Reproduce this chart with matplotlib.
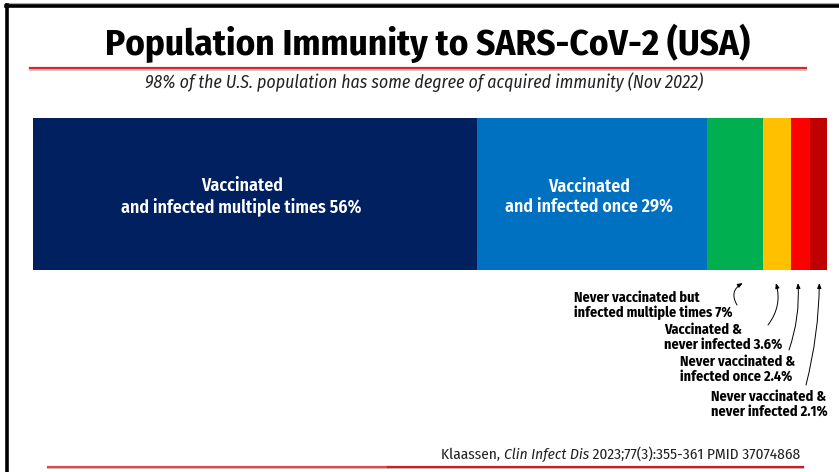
import matplotlib
matplotlib.use("Agg")
import matplotlib.pyplot as plt
from matplotlib.lines import Line2D
import numpy as np

plt.rcParams["font.family"] = ["Fira Sans Condensed", "DejaVu Sans"]

# population shares, percent
groups = ["Vaccinated\nand infected multiple times",
          "Vaccinated\nand infected once",
          "Never vaccinated but\ninfected multiple times",
          "Vaccinated &\nnever infected",
          "Never vaccinated &\ninfected once",
          "Never vaccinated &\nnever infected"]
shares = [56, 29, 7, 3.6, 2.4, 2.1]
pct_text = ["56%", "29%", "7%", "3.6%", "2.4%", "2.1%"]
colors = ["#002060", "#0070C0", "#00B050", "#FFC000", "#FF0000", "#C00000"]

W, H = 839, 472
fig = plt.figure(figsize=(W / 100, H / 100), dpi=100)
r = fig.canvas.get_renderer()

def fx(px):
    return px / W

def fy(py):
    return 1 - py / H

def fit(t, width):
    # rescale a text so it spans the given width in pixels
    w = t.get_window_extent(r).width
    t.set_fontsize(t.get_fontsize() * width / w)
    return t.get_fontsize()

# slide frame
fig.add_artist(Line2D([fx(6), 1], [fy(4), fy(4)], color="#9a9a9a", lw=1.2))
fig.add_artist(Line2D([fx(6), 1], [fy(6), fy(6)], color="black", lw=2.6))
fig.add_artist(Line2D([fx(7), fx(7)], [fy(5), 0], color="black", lw=2.6))

title = fig.text(fx(427.5), fy(55), "Population Immunity to SARS-CoV-2 (USA)", ha="center",
                 va="baseline", fontsize=24, fontweight="bold")
fit(title, 645)
fig.add_artist(Line2D([fx(30), fx(806)], [fy(69.5), fy(69.5)], color="#c8c8c8", lw=1.5))
fig.add_artist(Line2D([fx(30), fx(806)], [fy(68), fy(68)], color="#d6262b", lw=1.6))
sub = fig.text(fx(424), fy(88), "98% of the U.S. population has some degree of acquired immunity (Nov 2022)",
               ha="center", va="baseline", fontsize=11, style="italic", color="#222222")
fit(sub, 558)

# stacked bar
ax = fig.add_axes([fx(33), fy(270), fx(827) - fx(33), (270 - 118) / H])
lefts = np.concatenate([[0], np.cumsum(shares)[:-1]])
ax.barh([0], shares, left=lefts, height=1, color=colors, linewidth=0)
ax.set_xlim(0, sum(shares))
ax.set_ylim(-0.5, 0.5)
ax.axis("off")

# labels inside the two wide segments, nudged left a little
label_dx = [-1.7, -0.4]
big = []
for i in range(2):
    big.append(ax.text(lefts[i] + shares[i] / 2 + label_dx[i], -0.02, groups[i] + " " + pct_text[i],
                       ha="center", va="center", color="white", fontsize=12, fontweight="semibold",
                       linespacing=1.2))
size = fit(big[0], 241)
big[1].set_fontsize(size)

# small segments annotated below the bar
text_pos = [(574, 305), (664, 337), (680, 369), (711, 404)]
tails = [(737, 305), (768, 325), (789, 350), (806, 385)]
tip_frac = [0.64, 0.46, 0.35, 0.54]
rads = [-0.5, 0.25, 0.1, 0.06]
small = []
for k, i in enumerate(range(2, 6)):
    tx, ty = text_pos[k]
    small.append(fig.text(fx(tx), fy(ty), groups[i] + " " + pct_text[i], ha="left", va="center",
                          fontsize=10, fontweight="bold", linespacing=1.05))
    ax.annotate("", xy=(lefts[i] + shares[i] * tip_frac[k], -0.586), xycoords="data",
                xytext=(fx(tails[k][0]), fy(tails[k][1])), textcoords="figure fraction",
                annotation_clip=False,
                arrowprops=dict(arrowstyle="-|>,head_length=0.3,head_width=0.12", lw=0.7,
                                color="black", connectionstyle="arc3,rad=%s" % rads[k],
                                shrinkA=0, shrinkB=0))
size = fit(small[0], 159)
for t in small[1:]:
    t.set_fontsize(size)

# citation, with the journal in italics
parts = [("Klaassen, ", "normal"), ("Clin Infect Dis", "italic"), (" 2023;77(3):355-361 PMID 37074868", "normal")]
pieces = [fig.text(0, fy(459), s, ha="right", va="baseline", fontsize=10, style=st, color="#222222")
          for s, st in parts]
total = sum(p.get_window_extent(r).width for p in pieces)
for p in pieces:
    p.set_fontsize(10 * 359 / total)
x = 800
for p in reversed(pieces):
    p.set_x(fx(x))
    x -= p.get_window_extent(r).width
fig.add_artist(Line2D([fx(48), fx(803)], [fy(468), fy(468)], color="#c8c8c8", lw=1.5))
fig.add_artist(Line2D([fx(48), fx(388)], [fy(467), fy(467)], color="#dd4a4e", lw=1.6))
fig.add_artist(Line2D([fx(388), fx(803)], [fy(467), fy(467)], color="#cc1f24", lw=1.6))

fig.savefig("out.png", dpi=100)
